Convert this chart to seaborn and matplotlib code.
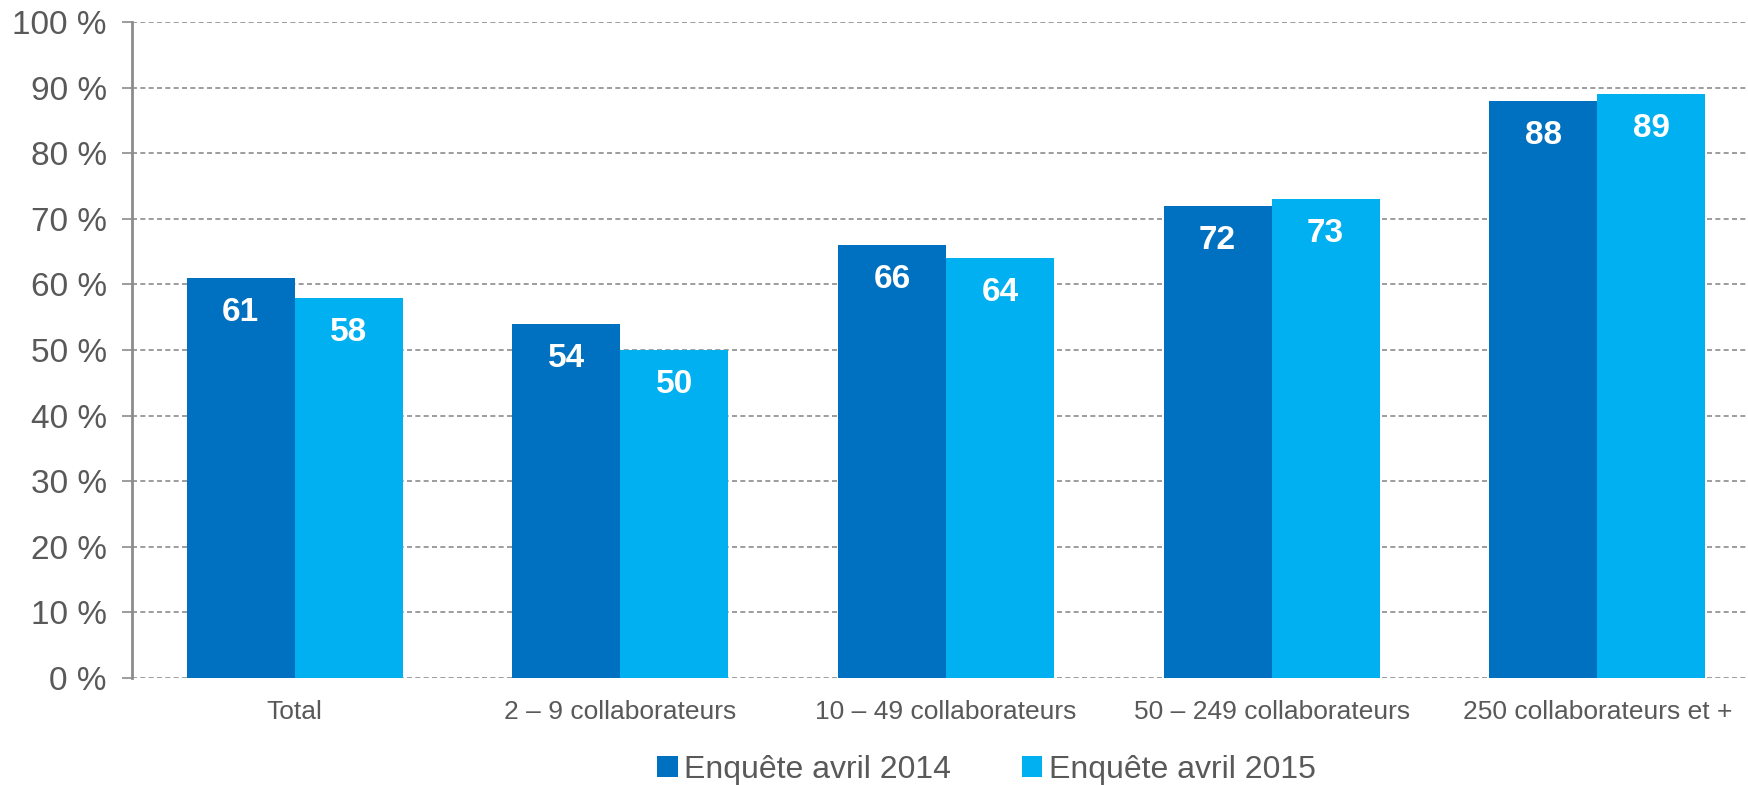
import matplotlib
matplotlib.use("Agg")
import matplotlib.pyplot as plt
import seaborn as sns
import pandas as pd

categories = ["Total", "2 – 9 collaborateurs", "10 – 49 collaborateurs",
              "50 – 249 collaborateurs", "250 collaborateurs et +"]
series = ["Enquête avril 2014", "Enquête avril 2015"]
values_2014 = [61, 54, 66, 72, 88]
values_2015 = [58, 50, 64, 73, 89]
yticks = [0, 10, 20, 30, 40, 50, 60, 70, 80, 90, 100]
ytick_labels = [f"{v} %" for v in yticks]
colors = ["#0070C0", "#00B0F0"]

rows = []
for c, a, b in zip(categories, values_2014, values_2015):
    rows.append({"cat": c, "serie": series[0], "val": a})
    rows.append({"cat": c, "serie": series[1], "val": b})
df = pd.DataFrame(rows)

sns.set_theme(style="white")
plt.rcParams["font.family"] = ["Liberation Sans", "DejaVu Sans"]

W, H = 1749, 785
fig = plt.figure(figsize=(W / 100, H / 100), dpi=100)
left, right = 132, 1760
bottom, top = 678, 22
ax = fig.add_axes([left / W, 1 - bottom / H, (right - left) / W, (bottom - top) / H])

sns.barplot(data=df, x="cat", y="val", hue="serie", order=categories,
            hue_order=series, palette=colors, width=0.664, saturation=1,
            ax=ax, legend=True, zorder=3, linewidth=0)

ax.set_xlim(-0.5, 4.5)
ax.set_ylim(0, 100)
ax.set_yticks(yticks)
ax.set_yticklabels(ytick_labels)
ax.set_xlabel("")
ax.set_ylabel("")

for s in ["top", "right", "bottom"]:
    ax.spines[s].set_visible(False)
ax.spines["left"].set_color("#8c8c8c")
ax.spines["left"].set_linewidth(2)

ax.yaxis.grid(True, linestyle=(0, (3, 2)), color="#8c8c8c", linewidth=1.2, zorder=0)
ax.set_axisbelow(True)
ax.tick_params(axis="y", length=7, width=1.2, color="#8c8c8c", labelsize=24,
               labelcolor="#595959", pad=11, left=True)
ax.tick_params(axis="x", length=0, labelsize=19, labelcolor="#595959", pad=16)

for cont in ax.containers:
    for bar in cont:
        h = bar.get_height()
        ax.annotate(f"{h:.0f}", (bar.get_x() + bar.get_width() / 2, h),
                    xytext=(0, -25), textcoords="offset points",
                    ha="center", va="center", color="white",
                    fontsize=24, fontweight="bold", zorder=5)

handles, labels = ax.get_legend_handles_labels()
ax.legend(handles, labels, loc="center", bbox_to_anchor=(0.564, 1 - 770 / H),
          bbox_transform=fig.transFigure, ncol=2, frameon=False, fontsize=23,
          handlelength=0.65, handleheight=0.65, handletextpad=0.2,
          columnspacing=2.2, labelcolor="#595959")

fig.savefig("out.png", dpi=100)
